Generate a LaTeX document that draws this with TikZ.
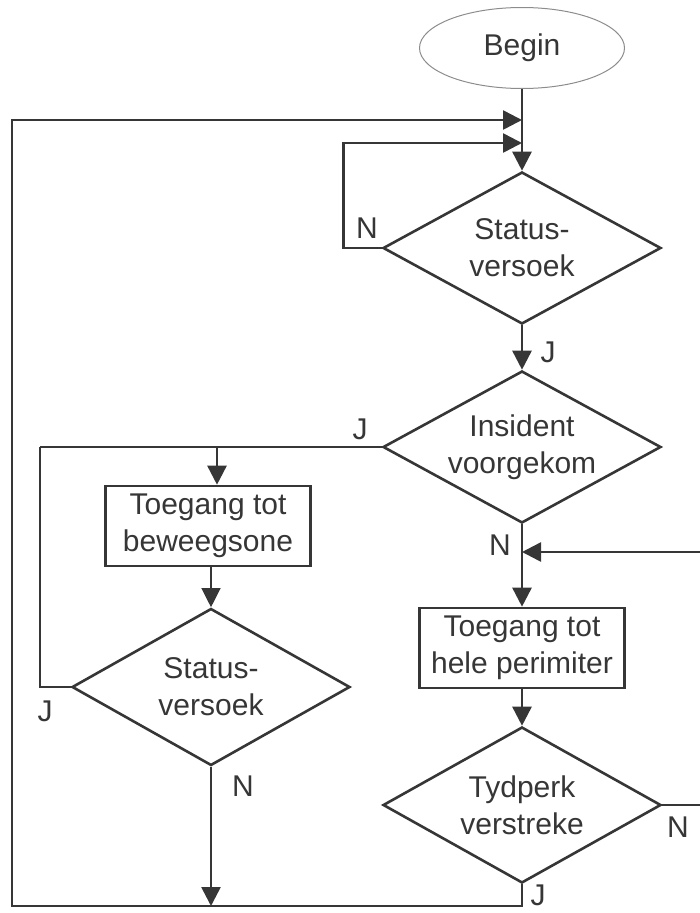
\documentclass[tikz,border=0pt]{standalone}
\usepackage{fontspec}
\setmainfont{Liberation Sans}
\usetikzlibrary{shapes.geometric,arrows.meta}
\definecolor{ink}{HTML}{363636}
\definecolor{rim}{HTML}{8C8C8C}
\begin{document}
\begin{tikzpicture}[x=1pt,y=-1pt,
  every node/.style={font=\fontsize{30}{37}\selectfont, text=ink},
  flow/.style={draw=ink, line width=2.6pt},
  thinflow/.style={draw=ink, line width=1.2pt},
  decision/.style={diamond, draw=ink, line width=2.6pt, minimum width=278pt,
    inner sep=0pt, align=center, aspect=1.83},
  process/.style={rectangle, draw=ink, line width=2.6pt, minimum width=205pt,
    minimum height=80pt, inner sep=0pt, align=center},
  startnode/.style={ellipse, draw=rim, line width=1pt, minimum width=205pt,
    minimum height=81pt, inner sep=0pt},
  tip/.style={-{Triangle[length=19pt,width=19pt]}},
  lbl/.style={inner sep=0pt}
]
\useasboundingbox (0,0) rectangle (700,913);

% blocks
\node[startnode] (begin) at (522,48) {Begin};
\node[decision, minimum height=152pt] (q1) at (522,248) {Status-\\versoek};
\node[decision, minimum height=152pt] (q2) at (522,447) {Insident\\voorgekom};
\node[process] (p1) at (208,526) {Toegang tot\\beweegsone};
\node[decision, minimum height=157pt] (q3) at (211,687) {Status-\\versoek};
\node[process] (p2) at (522,648) {Toegang tot\\hele perimiter};
\node[decision, minimum height=156pt] (q4) at (522,805) {Tydperk\\verstreke};

% junction points on the lines
\coordinate (outerIn) at (522,120);
\coordinate (loopIn) at (522,143);
\coordinate (rejoin) at (522,552);
\coordinate (jleft) at (40,447);
\coordinate (jbranch) at (217,447);
\coordinate (sinkN) at (211,906);
\coordinate (bottomLeft) at (12,906);
\coordinate (rightTurn) at (704,805);

% connectors
\draw[flow,tip] (begin.south) -- (q1.north);
\draw[flow,tip] (q1.west) -- ++(-38,0) |- (loopIn);
\draw[flow,tip] (q1.south) -- (q2.north);
\draw[flow] (q2.west) -- (jleft);
\draw[flow,tip] (jbranch) -- (jbranch |- p1.north);
\draw[thinflow,tip] (q3.north |- p1.south) -- (q3.north);
\draw[flow] (q3.west) -| (jleft);
\draw[flow,tip] (q3.south) -- (sinkN);
\draw[flow,tip] (q2.south) -- (p2.north);
\draw[flow,tip] (p2.south) -- (q4.north);
\draw[flow,tip] (q4.east) -- (rightTurn) |- (rejoin);
\draw[flow,tip] (q4.south) |- (bottomLeft) |- (outerIn);

% branch labels
\node[lbl] (n1) at (367,228) {N};
\node[lbl] (j1) at (548,352) {J};
\node[lbl] (j2) at (360,429) {J};
\node[lbl] (n2) at (500,545) {N};
\node[lbl] (j3) at (45,711) {J};
\node[lbl] (n3) at (243,786) {N};
\node[lbl] (n4) at (678,827) {N};
\node[lbl] (j4) at (538,895) {J};
\end{tikzpicture}
\end{document}
